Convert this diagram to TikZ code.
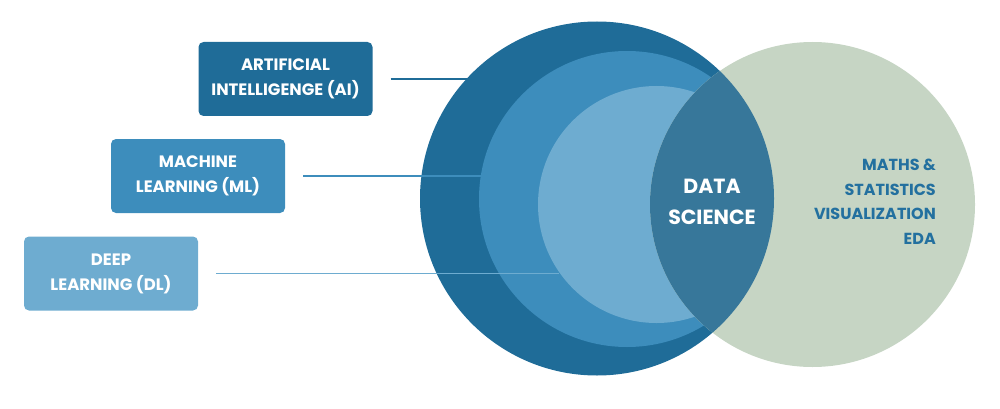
\documentclass[tikz,border=0pt]{standalone}
\usepackage{fontspec}
\setmainfont{Poppins}
\definecolor{aiblue}{HTML}{1F6C98}
\definecolor{mlblue}{HTML}{3D8DBC}
\definecolor{dlblue}{HTML}{6EACD0}
\definecolor{msgreen}{HTML}{C6D5C4}
\definecolor{dsblue}{HTML}{37779A}
\definecolor{mstext}{HTML}{23709F}
\begin{document}
\begin{tikzpicture}[x=1pt,y=-1pt,
    box/.style={rounded corners=5pt,minimum width=174pt,minimum height=74pt,inner sep=0pt,
        align=center,text=white,font=\bfseries\fontsize{16.5}{25}\selectfont},
    ring/.style={circle,inner sep=0pt},
    link/.style={line width=1.5pt},]
        \useasboundingbox (0,0) rectangle (1000,409);
        \node[ring,fill=aiblue,minimum size=354pt] (AIc) at (597,198.5) {};
        \node[ring,fill=mlblue,minimum size=296pt] (MLc) at (627,199) {};
        \node[ring,fill=dlblue,minimum size=237pt] (DLc) at (656.5,204.5) {};
        \node[ring,fill=msgreen,minimum size=325pt] (MSc) at (812.5,204.5) {};
        \begin{scope}
            \clip (AIc.center) circle[radius=177pt];
            \fill[dsblue] (MSc.center) circle[radius=162.5pt];
        \end{scope}
        \node[box,fill=aiblue] (ai) at (285.5,79) {ARTIFICIAL\\INTELLIGENGE (AI)};
        \node[box,fill=mlblue] (ml) at (198,176) {MACHINE\\LEARNING (ML)};
        \node[box,fill=dlblue] (dl) at (111,273.5) {DEEP\\LEARNING (DL)};
        \draw[link,aiblue] ([xshift=18pt]ai.east) -- (ai.east -| AIc.137.2);
        \draw[link,mlblue] ([xshift=18pt]ml.east) -- (ml.east -| MLc.171);
        \draw[link,dlblue] ([xshift=18pt]dl.east) -- (dl.east -| DLc.215.3);
        \node[align=center,text=white,font=\bfseries\fontsize{20.5}{31}\selectfont] (ds) at (712,202) {DATA\\SCIENCE};
        \node[anchor=east,inner sep=0pt,align=right,text=mstext,font=\bfseries\fontsize{16}{24.5}\selectfont] (ms) at (936,202) {MATHS \&\\STATISTICS\\VISUALIZATION\\EDA};
    \end{tikzpicture}
\end{document}
